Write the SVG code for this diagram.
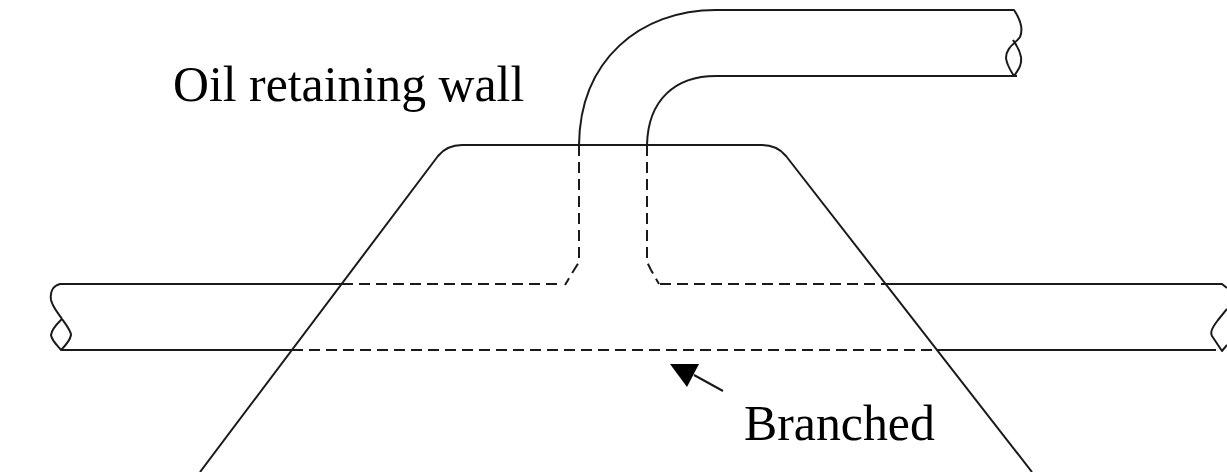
<svg xmlns="http://www.w3.org/2000/svg" width="1227" height="472" viewBox="0 0 1227 472">
<style>
.l{fill:none;stroke:#1a1a1a;stroke-width:2;stroke-linejoin:round}
.d{fill:none;stroke:#1a1a1a;stroke-width:2;stroke-dasharray:11 6}
.t{font-family:"Liberation Serif","Times New Roman",serif;font-size:49.8px;fill:#000}
</style>
<rect width="1227" height="472" fill="#fff"/>
<g id="oil-retaining-wall">
<path class="l" d="M200 472L438 156Q447 145 462 145L762 145Q777 145 786 156L1032 472"/>
<text class="t" x="173" y="101">Oil retaining wall</text>
</g>
<g id="upper-pipe">
<path class="l" d="M579 145C580 60 640 10 716 10L1014 10C1022 22 1023 30 1020 37C1016 43 1006 47 1006 58C1007 66 1011 71 1014 76C1018 70 1022 66 1021 57C1019 47 1014 42 1013 40"/>
<path class="l" d="M647 145C648 100 675 76 716 76L1017 76"/>
</g>
<g id="lower-pipe">
<path class="l" d="M342 284L60 284C52 286 50 293 51 300C53 308 59 314 62 319C67 326 71 331 71 335C70 341 65 346 61 350C57 345 52 341 51 335C52 328 58 323 62 319"/>
<path class="l" d="M61 350L292 350"/>
<path class="l" d="M886 284L1222 284L1227 288"/>
<path class="l" d="M937 350L1216 350"/>
<path class="l" d="M1227 309L1218 320C1212 328 1210 332 1212 336L1222 351L1227 345"/>
</g>
<g id="connectors">
<path class="d" d="M579 145L579 262L574 270L565 285"/>
<path class="d" d="M647 145L647 262L651 270L659 284"/>
<path class="d" d="M342 284L562 284"/>
<path class="d" d="M660 284L886 284"/>
<path class="d" d="M292 350L937 350"/>
</g>
<g id="branched">
<path class="l" d="M723 391L694 375"/>
<polygon points="670,364 699,364 687,387" fill="#000"/>
<text class="t" x="744" y="440">Branched</text>
</g>
</svg>
